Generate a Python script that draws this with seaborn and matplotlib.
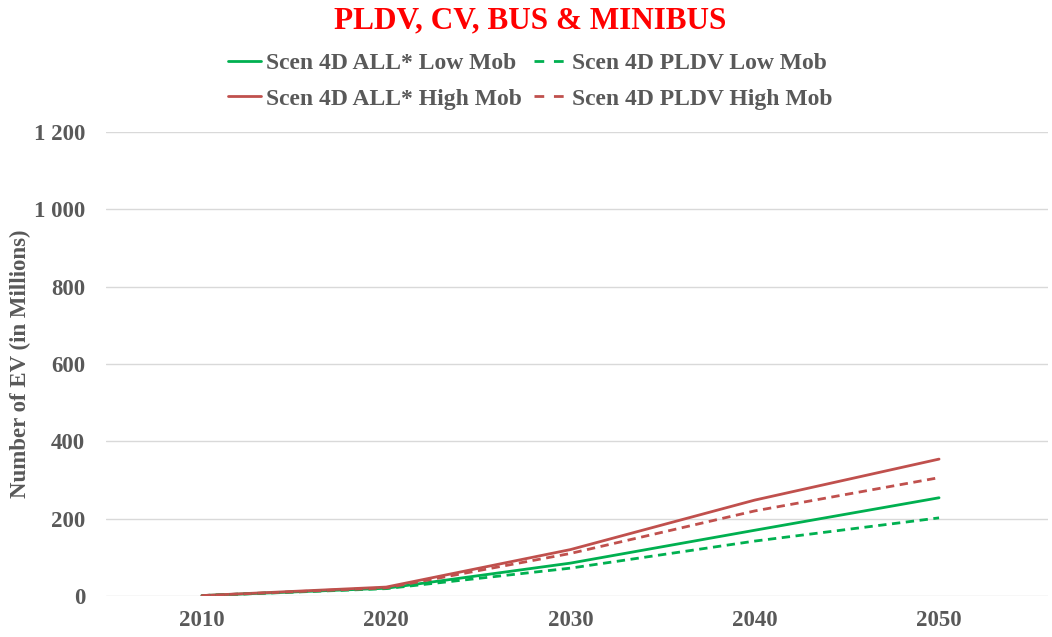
import numpy as np
import pandas as pd
import matplotlib
matplotlib.use('Agg')
import matplotlib.pyplot as plt
from matplotlib.ticker import FuncFormatter
import seaborn as sns

years = [2010, 2020, 2030, 2040, 2050]
all_low = [1, 20, 85, 170, 254]
pldv_low = [1, 19, 72, 142, 202]
all_high = [1, 23, 120, 248, 354]
pldv_high = [1, 21, 110, 220, 306]

names = ['Scen 4D ALL* Low Mob', 'Scen 4D ALL* High Mob',
         'Scen 4D PLDV Low Mob', 'Scen 4D PLDV High Mob']
series = [all_low, all_high, pldv_low, pldv_high]

green = '#00B050'
red = '#C0504D'
grey = '#595959'

rows = []
for n, vals in zip(names, series):
    for y, v in zip(years, vals):
        rows.append({'year': y, 'value': v, 'series': n})
df = pd.DataFrame(rows)

sns.set_theme(style='white')
plt.rcParams['font.family'] = ['Liberation Serif', 'DejaVu Serif']
plt.rcParams['font.weight'] = 'bold'

fig = plt.figure(figsize=(10.52, 6.37), dpi=100)
ax = fig.add_axes([0.1008, 0.0644, 0.8952, 0.7284])

palette = {names[0]: green, names[1]: red, names[2]: green, names[3]: red}
dashes = {names[0]: '', names[1]: '', names[2]: (3, 2), names[3]: (3, 2)}
sns.lineplot(data=df, x='year', y='value', hue='series', style='series',
             palette=palette, dashes=dashes, hue_order=names, style_order=names,
             linewidth=2.0, ax=ax, legend=False)

ax.set_ylim(0, 1200)
ax.set_yticks(np.arange(0, 1201, 200))
ax.yaxis.set_major_formatter(FuncFormatter(lambda v, p: '{:,.0f}'.format(v).replace(',', ' ')))
ax.set_xlim(2004.8, 2055.9)
ax.set_xticks(years)
ax.grid(axis='y', color='#d9d9d9', linewidth=1.0)
ax.set_axisbelow(True)
for s in ax.spines.values():
    s.set_visible(False)
ax.tick_params(axis='both', length=0, labelsize=16.5, colors=grey)
for lab in ax.get_xticklabels() + ax.get_yticklabels():
    lab.set_fontweight('bold')
ax.tick_params(axis='x', pad=10)
ax.tick_params(axis='y', pad=15)
ax.set_xlabel('')
ax.set_ylabel('Number of EV (in Millions)', fontsize=16.5, color=grey,
              fontweight='bold', labelpad=2)

handles = []
for n in names:
    if 'PLDV' in n:
        h = plt.Line2D([], [], color=palette[n], linewidth=2.0, linestyle=(0, (3.5, 3.5)))
    else:
        h = plt.Line2D([], [], color=palette[n], linewidth=2.0, linestyle='-')
    handles.append(h)
leg = fig.legend(handles, names, ncol=2, loc='center', bbox_to_anchor=(0.504, 0.873),
                 frameon=False, handlelength=1.4, handletextpad=0.2, columnspacing=0.5,
                 labelspacing=0.6, prop={'size': 17, 'weight': 'bold'})
for t in leg.get_texts():
    t.set_color(grey)

fig.text(0.504, 0.967, 'PLDV, CV, BUS & MINIBUS', ha='center', va='center',
         color='#FF0000', fontsize=22.5, fontweight='bold')

fig.savefig('out.png', dpi=100)
